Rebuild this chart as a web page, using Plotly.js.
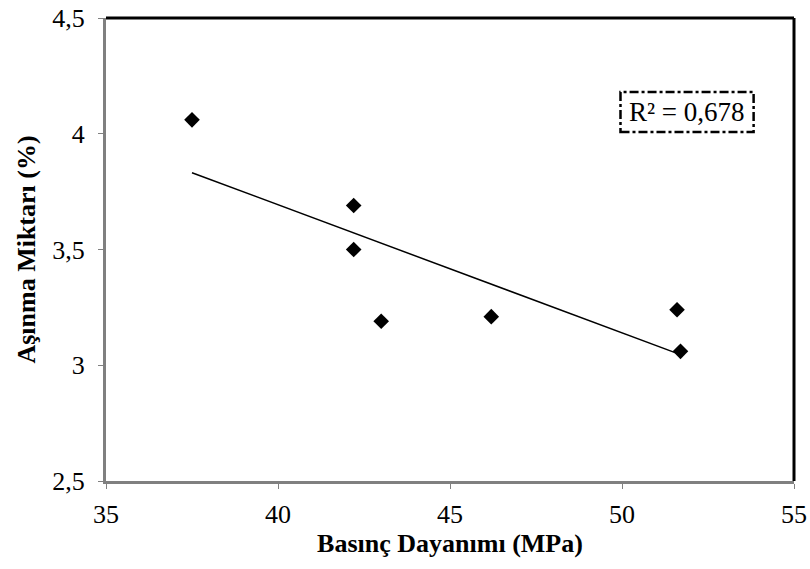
<!DOCTYPE html>
<html>
<head>
<meta charset="utf-8">
<script src="https://cdn.plot.ly/plotly-3.0.1.min.js"></script>
<style>html,body{margin:0;padding:0;background:#fff;}#chart{width:810px;height:569px;}</style>
</head>
<body>
<div id="chart"></div>
<script>
const basincDayanimi = [37.5, 42.2, 42.2, 43.0, 46.2, 51.6, 51.7];
const asinmaMiktari = [4.06, 3.69, 3.50, 3.19, 3.21, 3.24, 3.06];
const xTickValues = [35, 40, 45, 50, 55];
const yTickValues = [2.5, 3, 3.5, 4, 4.5];
const r2Label = 'R² = 0,678';

// linear least-squares trendline from the data
const n = basincDayanimi.length;
const mx = basincDayanimi.reduce((a, b) => a + b, 0) / n;
const my = asinmaMiktari.reduce((a, b) => a + b, 0) / n;
let sxy = 0, sxx = 0;
for (let i = 0; i < n; i++) {
  sxy += (basincDayanimi[i] - mx) * (asinmaMiktari[i] - my);
  sxx += (basincDayanimi[i] - mx) ** 2;
}
const slope = sxy / sxx;
const intercept = my - slope * mx;
const xmin = Math.min(...basincDayanimi), xmax = Math.max(...basincDayanimi);
const trendX = [xmin, xmax];
const trendY = trendX.map(x => intercept + slope * x);

const font = 'Liberation Serif, Times New Roman, serif';

const data = [
  {x: trendX, y: trendY, mode: 'lines', type: 'scatter',
   line: {color: '#000', width: 1.5}, hoverinfo: 'skip'},
  {x: basincDayanimi, y: asinmaMiktari, mode: 'markers', type: 'scatter',
   marker: {symbol: 'diamond', size: 12, color: '#000'}}
];

const layout = {
  width: 810, height: 569,
  margin: {l: 106, r: 16, t: 18, b: 88},
  paper_bgcolor: '#fff', plot_bgcolor: '#fff',
  showlegend: false,
  separators: ',.',
  font: {family: font, size: 26, color: '#000'},
  xaxis: {
    range: [35, 55], tickvals: xTickValues, showgrid: false, zeroline: false,
    showline: true, linecolor: '#808080', linewidth: 3,
    ticks: 'outside', ticklen: 5, tickcolor: '#808080', tickwidth: 1,
    ticklabelstandoff: 3,
    tickfont: {family: font, size: 26},
    title: {text: '<b>Basınç Dayanımı (MPa)</b>', font: {family: font, size: 26}, standoff: 6}
  },
  yaxis: {
    range: [2.5, 4.5], tickvals: yTickValues, showgrid: false, zeroline: false,
    showline: true, linecolor: '#808080', linewidth: 3,
    ticks: 'outside', ticklen: 5, tickcolor: '#808080', tickwidth: 1,
    ticklabelstandoff: 8,
    tickfont: {family: font, size: 26},
    title: {text: '<b>Aşınma Miktarı (%)</b>', font: {family: font, size: 26}, standoff: 10}
  },
  shapes: [
    {type: 'line', xref: 'paper', yref: 'paper', x0: 0, x1: 1, y0: 1, y1: 1,
     line: {color: '#000', width: 3}},
    {type: 'line', xref: 'paper', yref: 'paper', x0: 1, x1: 1, y0: 0, y1: 1,
     line: {color: '#000', width: 3}},
    {type: 'rect', xref: 'paper', yref: 'paper', x0: 0.7478, x1: 0.9413, y0: 0.754, y1: 0.840,
     line: {color: '#000', width: 2.5, dash: 'dashdot'}, fillcolor: 'rgba(0,0,0,0)'}
  ],
  annotations: [
    {xref: 'paper', yref: 'paper', x: 0.8445, y: 0.797, xanchor: 'center', yanchor: 'middle',
     text: r2Label, showarrow: false, font: {family: font, size: 27, color: '#000'}}
  ]
};

Plotly.newPlot('chart', data, layout, {displayModeBar: false, staticPlot: true});
</script>
</body>
</html>
